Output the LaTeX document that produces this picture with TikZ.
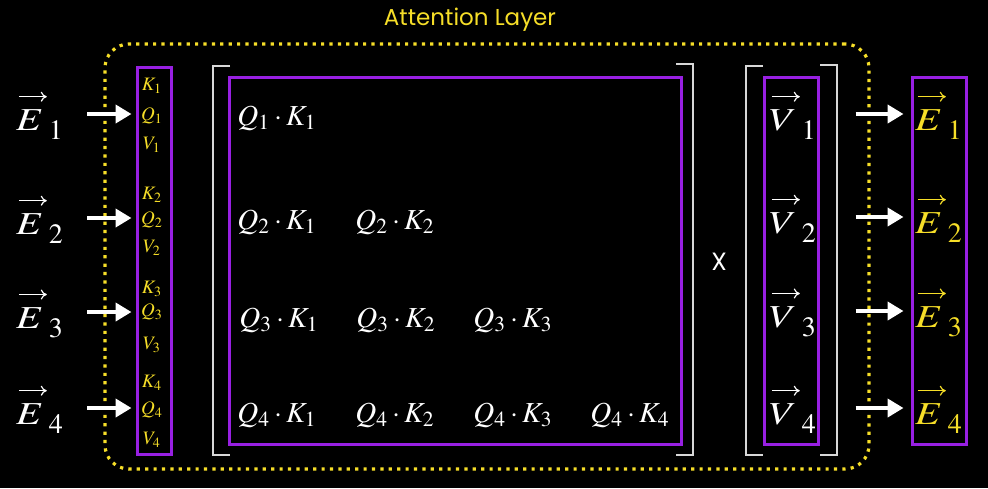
\documentclass[tikz,border=0pt]{standalone}
\usepackage{amsmath}
\usepackage{graphicx}
\usepackage{mathptmx}
\usepackage[no-math]{fontspec}
\newfontfamily\poppins{Poppins}
\usetikzlibrary{arrows.meta, positioning}
\definecolor{attnpurple}{RGB}{152,32,226}
\definecolor{attnyellow}{RGB}{246,222,40}
\definecolor{brackgray}{RGB}{215,215,215}
\newcommand{\vecsym}[2]{\ensuremath{\overset{\raisebox{0.8pt}{\hspace{1.5pt}\tikz\draw[-{To[length=3pt,width=5pt]}, line width=0.6pt] (0pt,0pt) -- (14pt,0pt);\hspace{-1.5pt}}}{\scalebox{1.25}[1]{$#1$}}\mkern2.5mu\raisebox{-4.5pt}{\fontsize{14}{14}\selectfont$#2$}}}
\tikzstyle{vecbox} = [rectangle, draw=attnpurple, line width=1.5pt, inner sep=0pt]
\tikzstyle{layerbox} = [rectangle, rounded corners=12pt, draw=attnyellow, line width=1.6pt, dash pattern=on 1.6pt off 2.6pt]
\tikzstyle{arrow} = [white, line width=2pt, -{Triangle[length=8pt,width=9pt]}]
\tikzstyle{bracket} = [draw=brackgray, line width=0.8pt]
\tikzstyle{entry} = [white, font=\fontsize{14.5}{17}\selectfont, anchor=base west, inner sep=0pt]
\tikzstyle{bigvec} = [font=\fontsize{16}{18}\selectfont, inner sep=0pt]
\tikzstyle{small} = [attnyellow, font=\fontsize{9.5}{11}\selectfont, inner sep=0pt]

\begin{document}
\begin{tikzpicture}[x=0.5pt, y=-0.5pt]

% Background
\fill[black] (0,0) rectangle (988,488);

% Layer frame and title
\node (layer) [layerbox, minimum width=382pt, minimum height=212.5pt] at (487,256.5) {};
\node (title) [attnyellow, font=\poppins\fontsize{11.5}{13}\selectfont] at (470,20) {Attention Layer};

% Boxes
\node (lbox) [vecbox, minimum width=17pt, minimum height=193.5pt] at (154,260.5) {};
\node (mbox) [vecbox, minimum width=226pt, minimum height=183.5pt] at (455,260.5) {};
\node (vbox) [vecbox, minimum width=27pt, minimum height=183.5pt] at (791,260.5) {};
\node (obox) [vecbox, minimum width=27pt, minimum height=183.5pt] at (939,260.5) {};

% Brackets
\draw [bracket] (230,66) -- (213,66) -- (213,455) -- (230,455);
\draw [bracket] (676,64) -- (693,64) -- (693,455) -- (676,455);
\draw [bracket] (763,66) -- (746,66) -- (746,455) -- (763,455);
\draw [bracket] (820,65) -- (837,65) -- (837,455) -- (820,455);

% Inputs
\node (in1) [bigvec, white] at (39,114) {\vecsym{E}{1}};
\node (in2) [bigvec, white] at (39,218) {\vecsym{E}{2}};
\node (in3) [bigvec, white] at (39,312) {\vecsym{E}{3}};
\node (in4) [bigvec, white] at (39,408) {\vecsym{E}{4}};

% Keys, queries, values
\node (k1) [small] at (152,86) {$K_1$};
\node (q1) [small] at (152,116) {$Q_1$};
\node (v1) [small] at (152,145) {$V_1$};
\node (k2) [small] at (152,195) {$K_2$};
\node (q2) [small] at (152,220) {$Q_2$};
\node (v2) [small] at (152,248) {$V_2$};
\node (k3) [small] at (152,289) {$K_3$};
\node (q3) [small] at (152,312) {$Q_3$};
\node (v3) [small] at (152,345) {$V_3$};
\node (k4) [small] at (152,383) {$K_4$};
\node (q4) [small] at (152,410) {$Q_4$};
\node (v4) [small] at (152,440) {$V_4$};

% Attention pattern
\node (a11) [entry] at (237,125) {$Q_1\cdot K_1$};
\node (a21) [entry] at (237,229) {$Q_2\cdot K_1$};
\node (a22) [entry] at (355,229) {$Q_2\cdot K_2$};
\node (a31) [entry] at (239,327) {$Q_3\cdot K_1$};
\node (a32) [entry] at (356,327) {$Q_3\cdot K_2$};
\node (a33) [entry] at (473,327) {$Q_3\cdot K_3$};
\node (a41) [entry] at (237,422) {$Q_4\cdot K_1$};
\node (a42) [entry] at (355,422) {$Q_4\cdot K_2$};
\node (a43) [entry] at (473,422) {$Q_4\cdot K_3$};
\node (a44) [entry] at (590,422) {$Q_4\cdot K_4$};

\node (times) [white, font=\poppins\fontsize{12.5}{14}\selectfont] at (719,262) {X};

% Value vectors
\node (val1) [bigvec, white] at (792,114) {\vecsym{V}{1}};
\node (val2) [bigvec, white] at (792,217) {\vecsym{V}{2}};
\node (val3) [bigvec, white] at (792,311) {\vecsym{V}{3}};
\node (val4) [bigvec, white] at (792,408) {\vecsym{V}{4}};

% Outputs
\node (out1) [bigvec, attnyellow] at (938,114) {\vecsym{E}{1}};
\node (out2) [bigvec, attnyellow] at (938,217) {\vecsym{E}{2}};
\node (out3) [bigvec, attnyellow] at (938,311) {\vecsym{E}{3}};
\node (out4) [bigvec, attnyellow] at (938,408) {\vecsym{E}{4}};

% Arrows
\draw [arrow, shorten <=12pt, shorten >=2pt] (in1.east) -- (in1.east -| lbox.west);
\draw [arrow, shorten <=12pt, shorten >=2pt] (in2.east) -- (in2.east -| lbox.west);
\draw [arrow, shorten <=12pt, shorten >=2pt] (in3.east) -- (in3.east -| lbox.west);
\draw [arrow, shorten <=12pt, shorten >=2pt] (in4.east) -- (in4.east -| lbox.west);
\draw [arrow, shorten <=18pt, shorten >=3.5pt] (val1 -| vbox.east) -- (out1 -| obox.west);
\draw [arrow, shorten <=18pt, shorten >=3.5pt] (val2 -| vbox.east) -- (out2 -| obox.west);
\draw [arrow, shorten <=18pt, shorten >=3.5pt] (val3 -| vbox.east) -- (out3 -| obox.west);
\draw [arrow, shorten <=18pt, shorten >=3.5pt] (val4 -| vbox.east) -- (out4 -| obox.west);

\end{tikzpicture}
\end{document}
